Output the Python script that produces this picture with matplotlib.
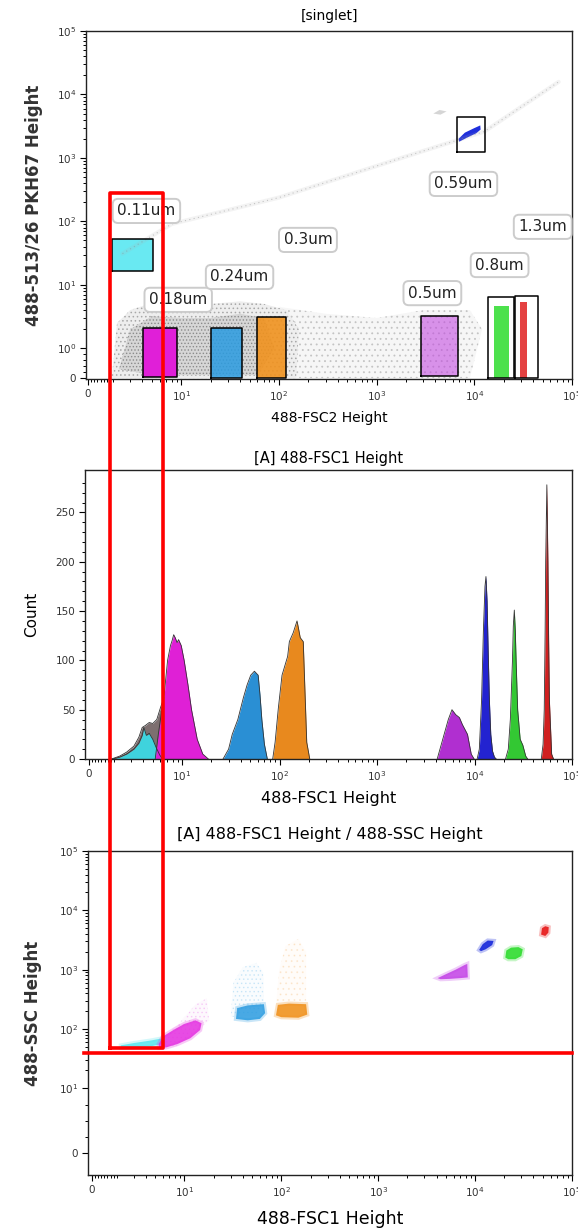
import numpy as np
import matplotlib
matplotlib.use('Agg')
import matplotlib.pyplot as plt
from matplotlib.ticker import FixedLocator, FixedFormatter, NullFormatter
from matplotlib.lines import Line2D

plt.rcParams['font.family'] = ['DejaVu Sans']
plt.rcParams['axes.linewidth'] = 1.0
plt.rcParams['hatch.linewidth'] = 0.6

# ---------------- top panel: [singlet] FSC2 vs PKH67 ----------------
bead_labels = ['0.11um', '0.18um', '0.24um', '0.3um', '0.5um', '0.59um', '0.8um', '1.3um']
bead_colors = ['#44e4ef', '#e01fd8', '#2a9be0', '#f0921e', '#c13fe0', '#1f2fdc', '#2edc2e', '#e02020']

gate_x0 = [1.95, 4.1, 20.2, 59, 2820, 6700, 13900, 26100]
gate_x1 = [5.1, 9.1, 42.2, 119, 6830, 13000, 25700, 44600]
gate_y0 = [16.5, 0.04, 0.0, 0.0, 0.07, 1260, 0.0, 0.0]
gate_y1 = [53, 2.06, 2.06, 3.14, 3.26, 4480, 6.5, 6.7]
gate_fill_alpha = [0.8, 1.0, 0.85, 0.9, 0.55]

# narrow event columns inside the 0.8um / 1.3um gates
strip_x0 = [15800, 29500]
strip_x1 = [22500, 34500]
strip_y1 = [4.6, 5.3]
strip_colors = ['#2edc2e', '#e02020']

# tilted 0.59um population
navy_dot_x = [6900, 8000, 10000, 11500, 11600, 10500, 8500, 7000]
navy_dot_y = [2000, 2500, 2950, 3250, 2800, 2450, 2100, 1800]

label_x = [4.4, 9.3, 39.5, 198, 3720, 7740, 18150, 50200]
label_y = [146, 5.8, 13.3, 51, 7.4, 389, 20.5, 82]

# grey background events
cloud_x = [1.9, 2.2, 3, 5, 10, 20, 40, 70, 120, 160, 150, 60, 10, 1.9]
cloud_y = [0, 2.5, 4, 5.2, 5.6, 5.0, 5.5, 5.0, 4.0, 2.0, 0, 0, 0, 0]
core_x = [2.3, 3, 5, 10, 20, 40, 70, 90, 60, 20, 5, 2.3]
core_y = [0.3, 2.0, 3.2, 3.0, 3.0, 3.5, 3.0, 1.0, 0.1, 0.1, 0.1, 0.3]
sparse_x = [100, 300, 1000, 3000, 9000, 12000, 9000, 1000, 100]
sparse_y = [4.5, 3.5, 3.0, 4.0, 4.0, 2.0, 0, 0, 0]
streak_x = [2.5, 8, 100, 1800, 12700, 73000]
streak_y = [31, 91, 237, 1000, 2610, 15800]
smudge_x = [3800, 4400, 5200, 4500]
smudge_y = [5000, 5700, 5400, 4800]

# ---------------- middle panel: FSC1 histogram ----------------
grey_x = [1.8, 2.3, 2.7, 3.2, 3.6, 3.9, 4.2, 4.6, 5.0, 5.5, 6.0, 6.5]
grey_n = [0, 3, 7, 13, 22, 32, 34, 37, 36, 40, 52, 62]
cyan_x = [1.9, 2.3, 2.7, 3.2, 3.6, 3.9, 4.05, 4.3, 4.6, 5.0, 5.4, 5.9, 6.3]
cyan_n = [0, 2, 5, 10, 16, 24, 32, 24, 26, 20, 12, 4, 0]
mag_x = [5.3, 5.7, 6.1, 6.5, 7.1, 7.6, 7.9, 8.2, 8.5, 8.9, 9.2, 9.8, 10.5, 11.5, 12.5, 14.3, 16.3, 18.6]
mag_n = [0, 25, 45, 62, 100, 115, 120, 126, 123, 118, 121, 115, 100, 75, 50, 20, 5, 0]
blue_x = [26.3, 30, 32.7, 37.3, 42.5, 46.4, 50.6, 55.2, 60.3, 63, 65.8, 69.9, 74.9]
blue_n = [0, 10, 25, 40, 62, 75, 85, 89, 85, 65, 40, 15, 0]
orange_x = [85, 90, 97, 106, 121, 126, 138, 151, 156, 163, 175, 190, 204]
orange_n = [0, 17, 51, 85, 104, 119, 128, 140, 133, 123, 119, 17, 0]
purple_x = [4140, 4720, 5380, 5870, 6410, 7000, 7500, 7970, 8470, 9250, 9910]
purple_n = [0, 20, 40, 50, 45, 42, 35, 30, 25, 5, 0]
navy_x = [10640, 11200, 11810, 12330, 12800, 13100, 13450, 13800, 14200, 14680, 15300, 16000, 16710]
navy_n = [0, 10, 60, 130, 175, 185, 160, 110, 60, 25, 8, 2, 0]
green_x = [20800, 22200, 23300, 24500, 25000, 25600, 26200, 26700, 27700, 29400, 31300, 33500, 35100]
green_n = [0, 10, 40, 100, 135, 151, 130, 100, 50, 20, 14, 3, 0]
red_x = [48400, 50500, 51900, 53000, 53700, 55200, 56600, 57600, 58600, 61800, 64600]
red_n = [0, 15, 50, 130, 200, 278, 200, 120, 60, 5, 0]

# ---------------- bottom panel: FSC1 vs SSC ----------------
sc_cyan_x = [2.2, 3.0, 4.5, 6.0, 6.2, 4.5, 3.0, 2.2]
sc_cyan_y = [53, 58, 64, 70, 57, 51, 49, 48]
sc_mag_x = [5.4, 6.0, 8.0, 10, 13, 15, 14.5, 11.5, 8.5, 6.5, 5.5]
sc_mag_y = [55, 75, 100, 122, 140, 125, 96, 70, 56, 49, 48]
sc_mag_halo_x = [5.5, 9, 13, 17, 18, 13, 8]
sc_mag_halo_y = [60, 130, 260, 330, 140, 90, 50]
sc_blue_x = [34, 35, 45, 66, 68, 60, 45]
sc_blue_y = [148, 225, 250, 262, 185, 148, 140]
sc_blue_halo_x = [30, 32, 40, 55, 65, 66, 55]
sc_blue_halo_y = [160, 600, 1100, 1300, 900, 300, 170]
sc_orange_x = [88, 92, 120, 180, 185, 150, 100]
sc_orange_y = [170, 255, 268, 262, 175, 155, 158]
sc_orange_halo_x = [88, 95, 110, 150, 180, 180]
sc_orange_halo_y = [250, 1000, 2500, 3300, 2000, 300]
sc_purple_x = [4100, 5000, 6300, 7800, 8300, 8400, 7000, 5500, 4400]
sc_purple_y = [720, 840, 1000, 1200, 1250, 740, 720, 700, 690]
sc_navy_x = [11000, 12000, 13500, 15500, 15000, 12800, 11500]
sc_navy_y = [2150, 2700, 3100, 3050, 2600, 2200, 2050]
sc_green_x = [20500, 21000, 23500, 28000, 31000, 30000, 26000, 22000]
sc_green_y = [1600, 2100, 2350, 2400, 2200, 1700, 1500, 1500]
sc_red_x = [48000, 49000, 53000, 57500, 57000, 53000]
sc_red_y = [3900, 5000, 5400, 5200, 4200, 3700]

# red analysis gate drawn across the panels
red_fsc_lo, red_fsc_hi = 1.75, 6.5
red_top_pkh = 280
red_box_ssc = 47
red_line_ssc = 40

W, H = 578, 1229
fig = plt.figure(figsize=(W / 100, H / 100), dpi=100)
ax1 = fig.add_axes([86 / W, (H - 379) / H, 486 / W, 348 / H])
ax2 = fig.add_axes([85 / W, (H - 759) / H, 487 / W, 289 / H])
ax3 = fig.add_axes([88 / W, (H - 1175) / H, 484 / W, 324 / H])

dec_labels = ['0', '$10^{1}$', '$10^{2}$', '$10^{3}$', '$10^{4}$', '$10^{5}$']
x_minor = [0.25 * i for i in range(1, 8)] + [k * 10 ** d for d in range(0, 5) for k in range(2, 10) if k * 10 ** d >= 2]


def style_x(ax, left):
    ax.set_xscale('symlog', linthresh=2, linscale=0.2304)
    ax.set_xlim(left, 1e5)
    ax.xaxis.set_major_locator(FixedLocator([0, 10, 100, 1e3, 1e4, 1e5]))
    ax.xaxis.set_major_formatter(FixedFormatter(dec_labels))
    ax.xaxis.set_minor_locator(FixedLocator(x_minor))
    ax.xaxis.set_minor_formatter(NullFormatter())


def style_common(ax):
    ax.tick_params(which='major', direction='out', length=4, width=0.8, labelsize=7.5, labelcolor='#333333', pad=3)
    ax.tick_params(which='minor', direction='out', length=2.2, width=0.7)
    for s in ax.spines.values():
        s.set_color('#222222')


def blob(ax, xs, ys, color, alpha):
    # soft rim, then dense core
    ax.fill(xs, ys, facecolor='none', edgecolor=color, lw=3, alpha=alpha * 0.3)
    ax.fill(xs, ys, color=color, alpha=alpha, lw=0)


# ---- top ----
style_x(ax1, -0.16)
ax1.set_yscale('symlog', linthresh=1, linscale=0.423)
ax1.set_ylim(-0.03, 1e5)
ax1.yaxis.set_major_locator(FixedLocator([0, 1, 10, 100, 1e3, 1e4, 1e5]))
ax1.yaxis.set_major_formatter(FixedFormatter(['0', '$10^{0}$'] + dec_labels[1:]))
ax1.yaxis.set_minor_locator(FixedLocator([0.2, 0.4, 0.6, 0.8] + [k * 10 ** d for d in range(0, 5) for k in range(2, 10)]))
ax1.yaxis.set_minor_formatter(NullFormatter())
style_common(ax1)

ax1.fill(sparse_x, sparse_y, facecolor='#f6f6f6', edgecolor='#c4c4c4', hatch='...', lw=0)
ax1.fill(cloud_x, cloud_y, facecolor='#eeeeee', edgecolor='#a8a8a8', hatch='....', lw=0)
ax1.fill(core_x, core_y, facecolor='#d6d6d6', edgecolor='#8a8a8a', hatch='.....', lw=0)
ax1.plot(streak_x, streak_y, color='#b0b0b0', lw=3, alpha=0.15, solid_capstyle='round')
ax1.plot(streak_x, streak_y, color='#8a8a8a', lw=0.8, alpha=0.45, ls=(0, (1, 3)))
ax1.fill(smudge_x, smudge_y, color='#777777', alpha=0.3, lw=0)

for i in range(5):
    ax1.fill([gate_x0[i], gate_x1[i], gate_x1[i], gate_x0[i]],
             [gate_y0[i], gate_y0[i], gate_y1[i], gate_y1[i]],
             color=bead_colors[i], alpha=gate_fill_alpha[i], lw=0)
for i in range(2):
    ax1.fill([strip_x0[i], strip_x1[i], strip_x1[i], strip_x0[i]],
             [0, 0, strip_y1[i], strip_y1[i]], color=strip_colors[i], alpha=0.85, lw=0)
ax1.fill(navy_dot_x, navy_dot_y, color=bead_colors[5], lw=0)
for i in range(8):
    ax1.plot([gate_x0[i], gate_x1[i], gate_x1[i], gate_x0[i], gate_x0[i]],
             [gate_y0[i], gate_y0[i], gate_y1[i], gate_y1[i], gate_y0[i]],
             color='black', lw=1.1)
for i in range(8):
    ax1.text(label_x[i], label_y[i], bead_labels[i], ha='center', va='center', fontsize=11, color='#222222',
             bbox=dict(boxstyle='round,pad=0.3,rounding_size=0.35', fc='white', ec='#cccccc', lw=1.4))

ax1.set_title('[singlet]', fontsize=10, pad=8)
ax1.set_xlabel('488-FSC2 Height', fontsize=10, labelpad=6)
ax1.set_ylabel('488-513/26 PKH67 Height', fontsize=12, fontweight='bold', color='#333333', labelpad=10)

# ---- middle ----
style_x(ax2, -0.32)
ax2.set_ylim(0, 293)
ax2.yaxis.set_major_locator(FixedLocator([0, 50, 100, 150, 200, 250]))
ax2.yaxis.set_minor_locator(FixedLocator(list(range(10, 290, 10))))
style_common(ax2)

hist_series = [(grey_x, grey_n, '#7d6f70'), (cyan_x, cyan_n, '#3fd3dd'), (mag_x, mag_n, '#df20d6'),
               (blue_x, blue_n, '#2a8fd4'), (orange_x, orange_n, '#e8891e'), (purple_x, purple_n, '#b02fd0'),
               (navy_x, navy_n, '#2323d0'), (green_x, green_n, '#33c833'), (red_x, red_n, '#d02020')]
for hx, hn, hc in hist_series:
    ax2.fill_between(hx, hn, 0, color=hc, lw=0)
    ax2.plot(hx, hn, color='#333333', lw=0.6)

ax2.set_title('[A] 488-FSC1 Height', fontsize=10.5, pad=5)
ax2.set_xlabel('488-FSC1 Height', fontsize=11.5, labelpad=6)
ax2.set_ylabel('Count', fontsize=11, labelpad=12)

# ---- bottom ----
style_x(ax3, -0.32)
ax3.set_yscale('symlog', linthresh=10, linscale=0.981)
ax3.set_ylim(-3.4, 1e5)
ax3.yaxis.set_major_locator(FixedLocator([0, 10, 100, 1e3, 1e4, 1e5]))
ax3.yaxis.set_major_formatter(FixedFormatter(dec_labels))
ax3.yaxis.set_minor_locator(FixedLocator([2.5, 5, 7.5] + [k * 10 ** d for d in range(1, 5) for k in range(2, 10)]))
ax3.yaxis.set_minor_formatter(NullFormatter())
style_common(ax3)

ax3.fill(sc_mag_halo_x, sc_mag_halo_y, facecolor='#fbeafb', edgecolor='#ec80ec', hatch='....', lw=0, alpha=0.3)
ax3.fill(sc_blue_halo_x, sc_blue_halo_y, facecolor='#eef7fd', edgecolor='#8ccaf0', hatch='....', lw=0, alpha=0.35)
ax3.fill(sc_orange_halo_x, sc_orange_halo_y, facecolor='#fff6ee', edgecolor='#f8c890', hatch='...', lw=0, alpha=0.3)
blob(ax3, sc_cyan_x, sc_cyan_y, '#55e6ef', 0.85)
blob(ax3, sc_mag_x, sc_mag_y, '#e42ee0', 0.85)
blob(ax3, sc_blue_x, sc_blue_y, '#2a9be0', 0.85)
blob(ax3, sc_orange_x, sc_orange_y, '#f0921e', 0.9)
blob(ax3, sc_purple_x, sc_purple_y, '#c23fe6', 0.85)
blob(ax3, sc_navy_x, sc_navy_y, '#1f2fdc', 0.95)
blob(ax3, sc_green_x, sc_green_y, '#2edc2e', 0.9)
blob(ax3, sc_red_x, sc_red_y, '#e82020', 0.95)

ax3.set_title('[A] 488-FSC1 Height / 488-SSC Height', fontsize=11.5, pad=9)
ax3.set_xlabel('488-FSC1 Height', fontsize=12.5, labelpad=8)
ax3.set_ylabel('488-SSC Height', fontsize=12, fontweight='bold', color='#333333', labelpad=12)

# ---- red overlay gate across the figure ----
to_fig = fig.transFigure.inverted()
xl = to_fig.transform(ax1.transData.transform((red_fsc_lo, 1)))[0]
xr = to_fig.transform(ax1.transData.transform((red_fsc_hi, 1)))[0]
yt = to_fig.transform(ax1.transData.transform((1, red_top_pkh)))[1]
yb = to_fig.transform(ax3.transData.transform((1, red_box_ssc)))[1]
yl = to_fig.transform(ax3.transData.transform((1, red_line_ssc)))[1]
x_end = to_fig.transform(ax3.transData.transform((1e5, 1)))[0]
x_start = to_fig.transform(ax3.transData.transform((ax3.get_xlim()[0], 1)))[0] - 4 / W
fig.add_artist(Line2D([xl, xl, xr, xr, xl], [yb, yt, yt, yb, yb], color='#ff0000', lw=2.6,
                      transform=fig.transFigure))
fig.add_artist(Line2D([x_start, x_end], [yl, yl], color='#ff0000', lw=2.6, transform=fig.transFigure))

fig.savefig('out.png', dpi=100)
